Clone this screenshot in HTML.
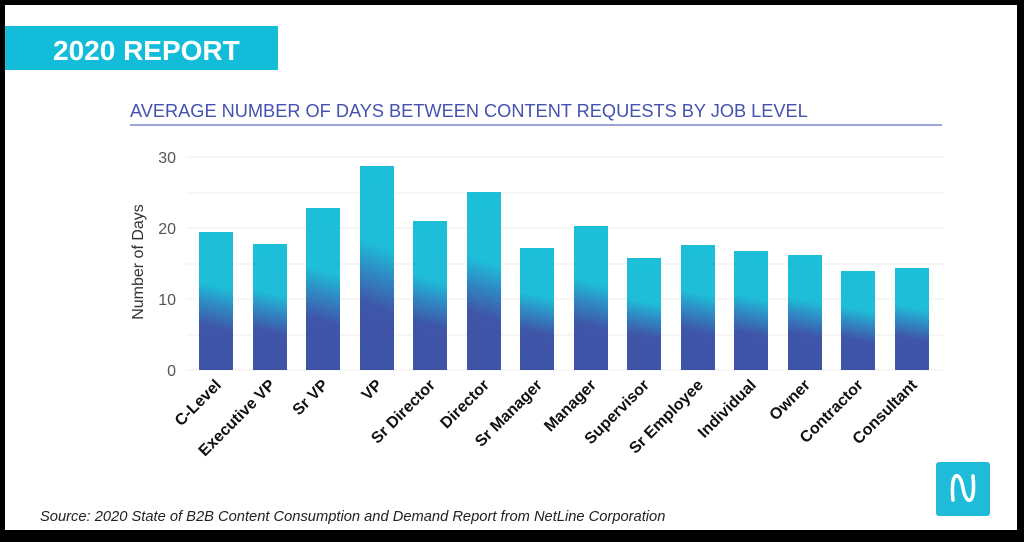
<!DOCTYPE html>
<html><head><style>
body{margin:0;width:1024px;height:537px;overflow:hidden;background:#000}
</style></head><body>
<svg width="1024" height="537" xmlns="http://www.w3.org/2000/svg" font-family="Liberation Sans, sans-serif">
<defs>
<linearGradient id="g" x1="0" y1="1" x2="0.06" y2="0" gradientUnits="objectBoundingBox">
<stop offset="0" stop-color="#3e53a6"/><stop offset="0.33" stop-color="#3f55a8"/><stop offset="0.5" stop-color="#2f8ac4"/><stop offset="0.64" stop-color="#1ebdd8"/><stop offset="1" stop-color="#1dbfd8"/>
</linearGradient>
</defs>
<rect x="5" y="5" width="1012" height="525" fill="#fff"/>
<rect x="5" y="26" width="273" height="44" fill="#13bdd9"/>
<text x="53" y="60" fill="#fff" font-size="28" font-weight="bold">2020 REPORT</text>
<text x="130" y="117" fill="#4452b0" font-size="18.2">AVERAGE NUMBER OF DAYS BETWEEN CONTENT REQUESTS BY JOB LEVEL</text>
<line x1="130" y1="125" x2="942" y2="125" stroke="#7d86cf" stroke-width="1.5"/>
<g stroke="#ececec" stroke-width="1">
<line x1="186" y1="157" x2="944" y2="157"/><line x1="186" y1="193" x2="944" y2="193"/><line x1="186" y1="228" x2="944" y2="228"/><line x1="186" y1="264" x2="944" y2="264"/><line x1="186" y1="299" x2="944" y2="299"/><line x1="186" y1="335" x2="944" y2="335"/><line x1="186" y1="370" x2="944" y2="370"/>
</g>
<g fill="#555" font-size="16" text-anchor="end">
<text x="176" y="163">30</text><text x="176" y="234">20</text><text x="176" y="305">10</text><text x="176" y="376">0</text>
</g>
<text transform="translate(143,262) rotate(-90)" text-anchor="middle" font-size="16" fill="#333">Number of Days</text>
<g fill="url(#g)">
<rect x="199" y="232" width="34" height="138"/>
<rect x="253" y="244" width="34" height="126"/>
<rect x="306" y="208" width="34" height="162"/>
<rect x="360" y="166" width="34" height="204"/>
<rect x="413" y="221" width="34" height="149"/>
<rect x="467" y="192" width="34" height="178"/>
<rect x="520" y="248" width="34" height="122"/>
<rect x="574" y="226" width="34" height="144"/>
<rect x="627" y="258" width="34" height="112"/>
<rect x="681" y="245" width="34" height="125"/>
<rect x="734" y="251" width="34" height="119"/>
<rect x="788" y="255" width="34" height="115"/>
<rect x="841" y="271" width="34" height="99"/>
<rect x="895" y="268" width="34" height="102"/>
</g>
<g font-size="16" font-weight="bold" fill="#111" text-anchor="end">
<text transform="translate(222,386) rotate(-45)">C-Level</text>
<text transform="translate(276,386) rotate(-45)">Executive VP</text>
<text transform="translate(329,386) rotate(-45)">Sr VP</text>
<text transform="translate(383,386) rotate(-45)">VP</text>
<text transform="translate(436,386) rotate(-45)">Sr Director</text>
<text transform="translate(490,386) rotate(-45)">Director</text>
<text transform="translate(543,386) rotate(-45)">Sr Manager</text>
<text transform="translate(597,386) rotate(-45)">Manager</text>
<text transform="translate(650,386) rotate(-45)">Supervisor</text>
<text transform="translate(704,386) rotate(-45)">Sr Employee</text>
<text transform="translate(757,386) rotate(-45)">Individual</text>
<text transform="translate(811,386) rotate(-45)">Owner</text>
<text transform="translate(864,386) rotate(-45)">Contractor</text>
<text transform="translate(918,386) rotate(-45)">Consultant</text>
</g>
<text x="40" y="521" font-size="14.7" font-style="italic" fill="#222">Source: 2020 State of B2B Content Consumption and Demand Report from NetLine Corporation</text>
<rect x="936" y="462" width="54" height="54" rx="3" fill="#1fbcd9"/>
<path d="M953 500 C950 470 960 470 963 488 C966 506 976 506 973 476" stroke="#fff" stroke-width="3.5" fill="none" stroke-linecap="round"/>
</svg>
</body></html>
